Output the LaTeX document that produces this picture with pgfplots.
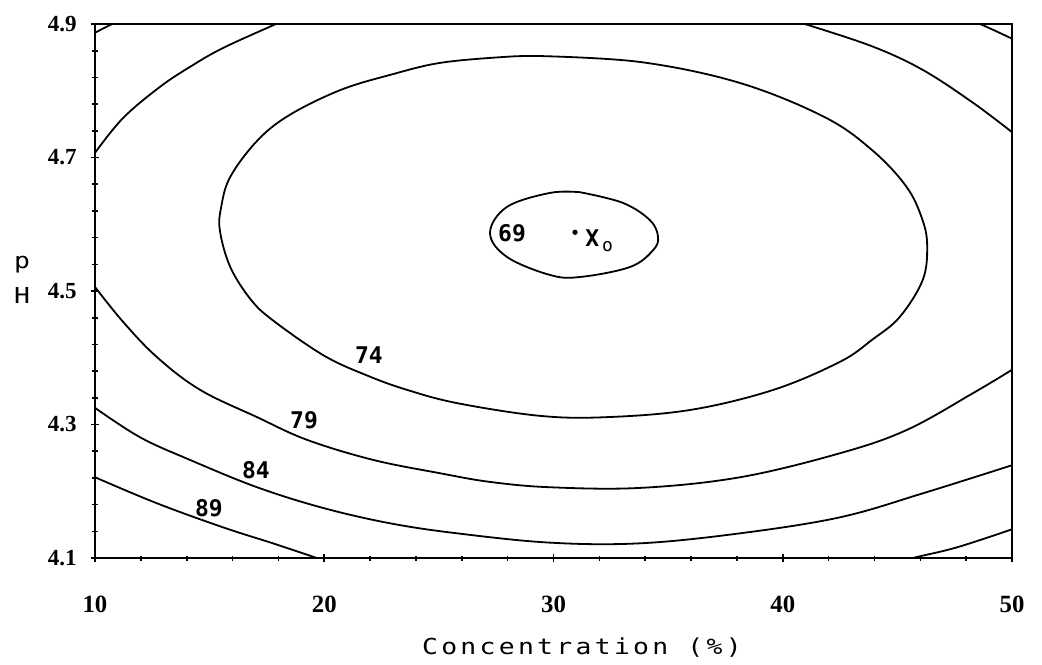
\documentclass[border=0pt]{standalone}
\usepackage{fontspec}
\setmainfont{Liberation Serif}
\newfontfamily\plotfont[FakeStretch=1.2,LetterSpace=15]{DejaVu Sans Mono}
\newfontfamily\labfont{DejaVu Sans Mono}
\usepackage{pgfplots}
\pgfplotsset{compat=1.18}
\tikzset{
  lab/.style={font=\labfont\bfseries\fontsize{11.5}{12}\selectfont},
  cl/.style={black, line width=0.9pt, smooth, tension=0.6},
}

\begin{document}
\begin{tikzpicture}
% canvas: 1 px of the reference = 0.5pt
\path[use as bounding box] (-47.5pt,-53pt) rectangle (473.5pt,279pt);
\begin{axis}[
  scale only axis, width=458.5pt, height=267pt,
  xmin=10, xmax=50, ymin=4.1, ymax=4.9,
  xtick={10,20,30,40,50}, ytick={4.1,4.3,4.5,4.7,4.9},
  minor x tick num=4, minor y tick num=4,
  tick pos=left, tick align=center,
  major tick length=4pt, minor tick length=2.5pt,
  every tick/.style={black, line width=0.8pt},
  axis line style={line width=1.1pt},
  clip mode=individual,
  /pgf/number format/assume math mode=true,
  xticklabel style={font=\bfseries\fontsize{12.4}{14}\selectfont, anchor=center, yshift=-21pt},
  yticklabel style={font=\bfseries\fontsize{11.5}{12}\selectfont, anchor=east, inner sep=0pt, xshift=-7pt,
    /pgf/number format/.cd, fixed, fixed zerofill, precision=1},
  xlabel={\plotfont\fontsize{11}{12}\selectfont Concentration (\%)},
  xlabel style={at={(axis description cs:0.531,-0.1816)}, anchor=base},
]
% 69
\addplot[cl] coordinates {
  (31.16,4.648) (33.03,4.632) (34.21,4.606) (34.56,4.581) (34.34,4.561)
  (33.34,4.536) (31.16,4.521) (29.85,4.524) (27.97,4.551) (27.23,4.587)
  (27.97,4.626) (29.85,4.647) (31.16,4.648)
};
% 74
\addplot[cl] coordinates {
  (29.4,4.852) (33.8,4.843) (38.1,4.812) (41.8,4.761) (43.9,4.711)
  (45.4,4.656) (46.1,4.606) (46.3,4.566) (46.1,4.516) (45.1,4.461)
  (43.9,4.427) (42.5,4.394) (39.6,4.352) (36.0,4.322) (32.3,4.311)
  (29.4,4.313) (25.8,4.332) (23.6,4.352) (21.9,4.373) (20.0,4.403)
  (17.8,4.455) (16.8,4.487) (15.9,4.536) (15.45,4.590) (15.5,4.625)
  (15.9,4.671) (17.1,4.726) (18.5,4.764) (20.7,4.801) (22.9,4.824)
  (25.1,4.842) (28.0,4.851) (29.4,4.852)
};
% 79
\addplot[cl] coordinates {
  (10,4.506) (11.22,4.454) (12.70,4.401) (14.58,4.352) (17.07,4.311)
  (19.25,4.277) (22.13,4.247) (25.05,4.227) (27.23,4.214) (29.85,4.206)
  (33.77,4.205) (38.14,4.221) (42.50,4.257) (45.42,4.292) (48.30,4.347)
  (50,4.382)
};
\addplot[cl] coordinates {
  (10,4.707) (11.22,4.759) (12.84,4.806) (14.2,4.837) (15.58,4.864)
  (17.76,4.898) (18.4,4.908)
};
\addplot[cl] coordinates {
  (40.2,4.908) (41.06,4.899) (43.94,4.866) (46.12,4.831) (48.30,4.782)
  (50,4.738)
};
% 84
\addplot[cl] coordinates {
  (10,4.325) (11.96,4.281) (14.14,4.247) (17.07,4.206) (19.95,4.175)
  (22.87,4.152) (25.79,4.137) (29.85,4.123) (33.77,4.122) (38.14,4.137)
  (42.50,4.161) (46.12,4.197) (50,4.239)
};
\addplot[cl] coordinates {(10,4.887) (10.74,4.900) (11.2,4.908)};
\addplot[cl] coordinates {(47.8,4.908) (48.60,4.900) (50,4.878)};
% 89
\addplot[cl] coordinates {
  (10,4.221) (12.70,4.182) (15.58,4.146) (17.76,4.122) (19.68,4.100)
  (20.4,4.092)
};
\addplot[cl] coordinates {(45.0,4.092) (45.68,4.100) (47.60,4.116) (50,4.143)};
% optimum
\addplot[only marks, mark=*, mark size=1.1pt, black] coordinates {(30.94,4.588)};

\node[lab] at (axis cs:28.19,4.587) {69};
\node[lab] at (axis cs:21.95,4.404) {74};
\node[lab] at (axis cs:19.12,4.307) {79};
\node[lab] at (axis cs:17.02,4.232) {84};
\node[lab] at (axis cs:14.97,4.175) {89};
\node[lab, anchor=base west, inner sep=0pt] at (axis cs:31.37,4.566)
  {X\hspace{1.5pt}\raisebox{-2.5pt}{\fontsize{9}{9}\selectfont\mdseries o}};

\node[anchor=base, font=\plotfont\fontsize{11}{12}\selectfont, inner sep=0pt]
  at (axis description cs:-0.0796,0.543) {p};
\node[anchor=base, font=\plotfont\fontsize{11}{12}\selectfont, inner sep=0pt]
  at (axis description cs:-0.0796,0.4775) {H};
\end{axis}
\end{tikzpicture}
\end{document}
